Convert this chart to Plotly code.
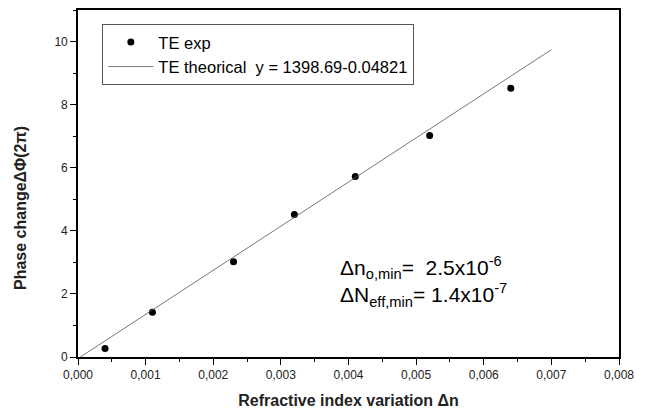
import plotly.graph_objects as go

# Data
dn_exp = [0.0004, 0.0011, 0.0023, 0.0032, 0.0041, 0.0052, 0.0064]
phase_exp = [0.27, 1.42, 3.02, 4.52, 5.72, 7.02, 8.52]
fit_slope = 1398.69
fit_intercept = -0.04821
fit_x = [0.0, 0.007]
fit_y = [fit_slope * x + fit_intercept for x in fit_x]

x_ticks = [0.000, 0.001, 0.002, 0.003, 0.004, 0.005, 0.006, 0.007, 0.008]
y_ticks = [0, 2, 4, 6, 8, 10]

font = "Liberation Sans, Arial, sans-serif"

fig = go.Figure()
fig.add_trace(go.Scatter(
    x=dn_exp, y=phase_exp, mode="markers", name="TE exp",
    marker=dict(color="black", size=7, symbol="circle")))
fig.add_trace(go.Scatter(
    x=fit_x, y=fit_y, mode="lines",
    name="TE theorical  y = 1398.69-0.04821",
    line=dict(color="#555555", width=0.8)))

axis_common = dict(
    showline=True, linecolor="black", linewidth=1.6, mirror=True,
    showgrid=False, zeroline=False, ticks="outside", ticklen=6,
    tickwidth=1.3, tickcolor="black", automargin=False,
    tickfont=dict(family=font, size=12, color="#222"),
)

fig.update_xaxes(
    range=[0, 0.008], tickvals=x_ticks, tickformat=".3f",
    minor=dict(dtick=0.0005, ticks="outside", ticklen=3, tickwidth=1.3, tickcolor="black"),
    title=dict(text="<b>Refractive index variation Δn</b>",
               font=dict(family=font, size=16, color="#222"), standoff=14),
    **axis_common)
fig.update_yaxes(
    range=[0, 11], tickvals=y_ticks,
    minor=dict(dtick=1, ticks="outside", ticklen=3, tickwidth=1.3, tickcolor="black"),
    **axis_common)

# y-axis title as annotation (positioned slightly below centre as in reference)
fig.add_annotation(
    x=-0.105, y=0.43, xref="paper", yref="paper", xanchor="center", yanchor="middle",
    text="<b>Phase changeΔΦ(2π)</b>", textangle=-90, showarrow=False,
    font=dict(family=font, size=16, color="#222"))

fig.add_annotation(
    x=0.00385, y=2.4, xref="x", yref="y", xanchor="left", yanchor="middle",
    text="Δn<sub>o,min</sub>=  2.5x10<sup>-6</sup><br>ΔN<sub>eff,min</sub>= 1.4x10<sup>-7</sup>",
    showarrow=False, align="left",
    font=dict(family=font, size=21, color="black"))

fig.update_layout(
    width=648, height=410,
    margin=dict(l=78, r=29, t=10, b=53, autoexpand=False),
    paper_bgcolor="white", plot_bgcolor="white",
    separators=", ",
    showlegend=True,
    legend=dict(x=0.045, y=0.96, xanchor="left", yanchor="top",
                bordercolor="#555", borderwidth=1, bgcolor="white",
                font=dict(family=font, size=16.5, color="black"),
                itemwidth=45, tracegroupgap=0),
)

fig.write_html("out.html")
